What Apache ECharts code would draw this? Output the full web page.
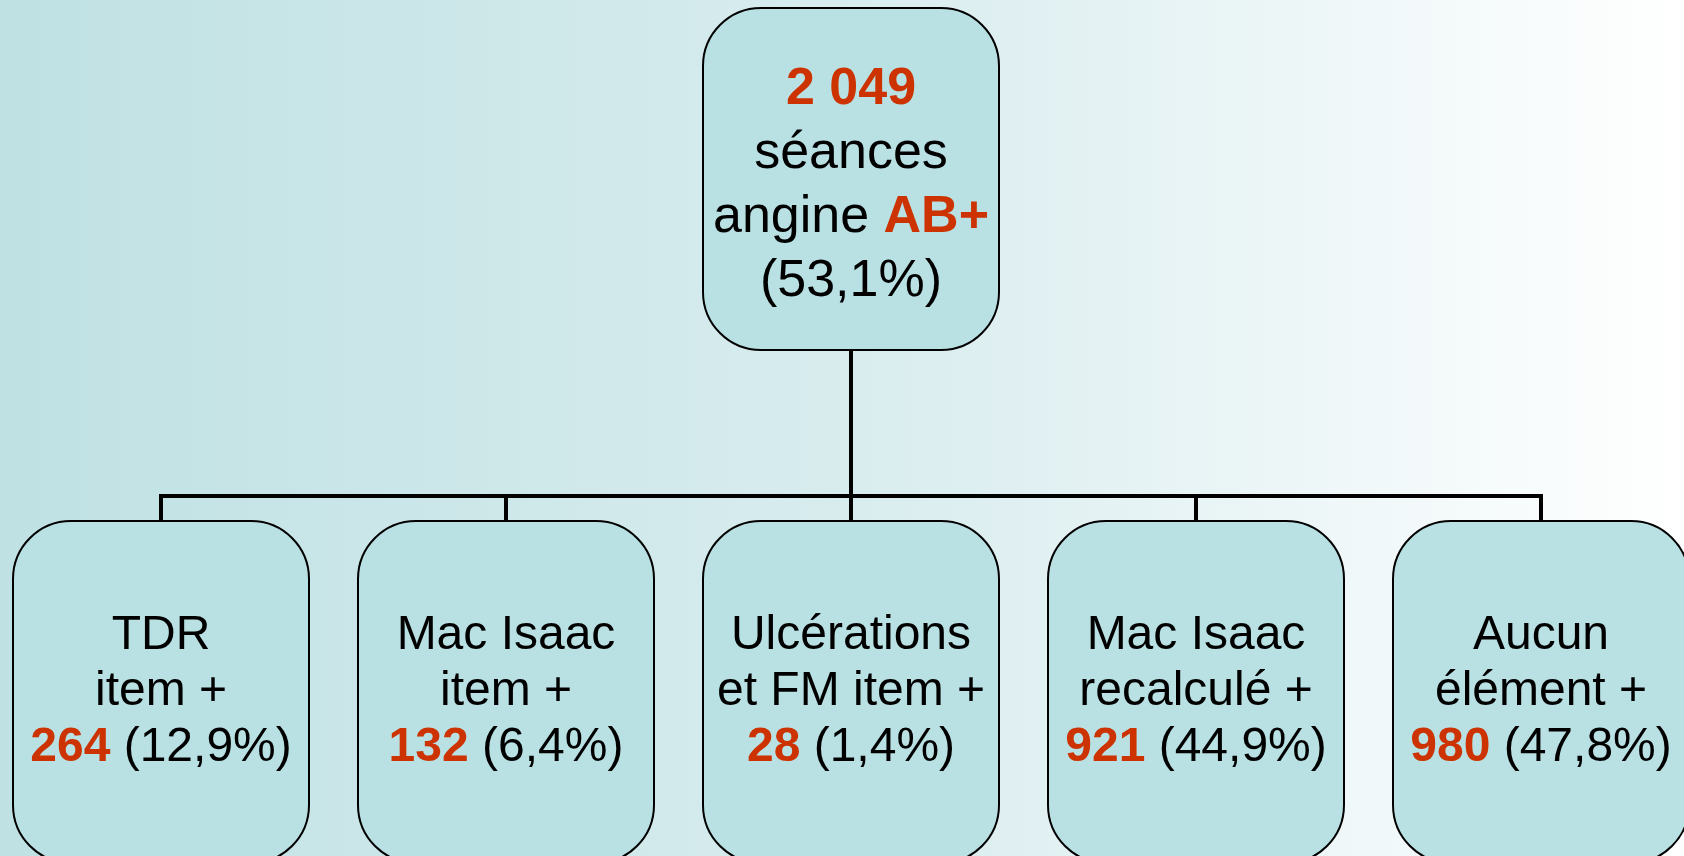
<!DOCTYPE html>
<html>
<head>
<meta charset="utf-8">
<script src="https://cdn.jsdelivr.net/npm/echarts@6/dist/echarts.min.js"></script>
<style>
html,body{margin:0;padding:0;}
#chart{width:1684px;height:856px;}
</style>
</head>
<body>
<div id="chart"></div>
<script>
// ---- data ----
const rootCount = 2049;
const rootLines = ['séances', 'angine'];
const rootTag = 'AB+';
const rootPercent = '53,1%';
const categories = ['TDR\nitem +', 'Mac Isaac\nitem +', 'Ulcérations\net FM item +', 'Mac Isaac\nrecalculé +', 'Aucun\nélément +'];
const counts = [264, 132, 28, 921, 980];
const percents = ['12,9%', '6,4%', '1,4%', '44,9%', '47,8%'];
const rootPosition = 2; // root sits above the middle child

function fmt(n) { return String(n).replace(/\B(?=(\d{3})+(?!\d))/g, ' '); }

// nodes: [xIndex, level, kind]
const nodes = [[rootPosition, 0, -1]].concat(categories.map((c, i) => [i, 1, i]));
const edges = categories.map((c, i) => [rootPosition, 0, i, 1]);

const BOX_W = 296, BOX_H = 342, RADIUS = 58, BAR_Y_OFFSET = 25;
const FONT = 'Liberation Sans, Arial, sans-serif';
const RED = '#cc3300';

const chart = echarts.init(document.getElementById('chart'));
chart.setOption({
  backgroundColor: {
    type: 'linear', x: 0, y: 0, x2: 1, y2: 0,
    colorStops: [
      { offset: 0, color: '#bfe1e3' },
      { offset: 0.5, color: '#d8ecee' },
      { offset: 1, color: '#ffffff' }
    ]
  },
  animation: false,
  grid: { left: 161, right: 143, top: 179, bottom: 164 },
  xAxis: { type: 'value', min: 0, max: 4, show: false },
  yAxis: { type: 'value', min: 0, max: 1, inverse: true, show: false },
  series: [
    {
      type: 'custom',
      z: 1,
      data: edges,
      renderItem: function (params, api) {
        const p = api.coord([api.value(0), api.value(1)]);
        const c = api.coord([api.value(2), api.value(3)]);
        const top = p[1] + BOX_H / 2;
        const childTop = c[1] - BOX_H / 2;
        const barY = childTop - BAR_Y_OFFSET;
        return {
          type: 'polyline',
          shape: { points: [[p[0], top], [p[0], barY], [c[0], barY], [c[0], childTop]] },
          style: { stroke: '#000', lineWidth: 4, fill: null, lineJoin: 'miter' }
        };
      }
    },
    {
      type: 'custom',
      z: 2,
      data: nodes,
      renderItem: function (params, api) {
        const pt = api.coord([api.value(0), api.value(1)]);
        const kind = api.value(2);
        let text, rich, dy = 0;
        if (kind < 0) {
          dy = 7;
          text = '{r|' + fmt(rootCount) + '}\n{n|' + rootLines[0] + '}\n{n|' + rootLines[1] + ' }{r|' + rootTag + '}\n{n|(' + rootPercent + ')}';
          rich = {
            r: { fontFamily: FONT, fontSize: 52, fontWeight: 'bold', fill: RED, lineHeight: 64 },
            n: { fontFamily: FONT, fontSize: 52, fill: '#000', lineHeight: 64 }
          };
        } else {
          const lines = categories[kind].split('\n');
          text = lines.map(l => '{n|' + l + '}').join('\n') + '\n{r|' + fmt(counts[kind]) + '}{n| (' + percents[kind] + ')}';
          rich = {
            r: { fontFamily: FONT, fontSize: 48, fontWeight: 'bold', fill: RED, lineHeight: 56 },
            n: { fontFamily: FONT, fontSize: 48, fill: '#000', lineHeight: 56 }
          };
        }
        return {
          type: 'group',
          children: [
            {
              type: 'rect',
              shape: { x: pt[0] - BOX_W / 2, y: pt[1] - BOX_H / 2, width: BOX_W, height: BOX_H, r: RADIUS },
              style: { fill: '#b9e0e3', stroke: '#000', lineWidth: 2 }
            },
            {
              type: 'text',
              x: pt[0], y: pt[1] + dy,
              style: { text: text, rich: rich, align: 'center', verticalAlign: 'middle', fontFamily: FONT }
            }
          ]
        };
      }
    }
  ]
});
</script>
</body>
</html>
